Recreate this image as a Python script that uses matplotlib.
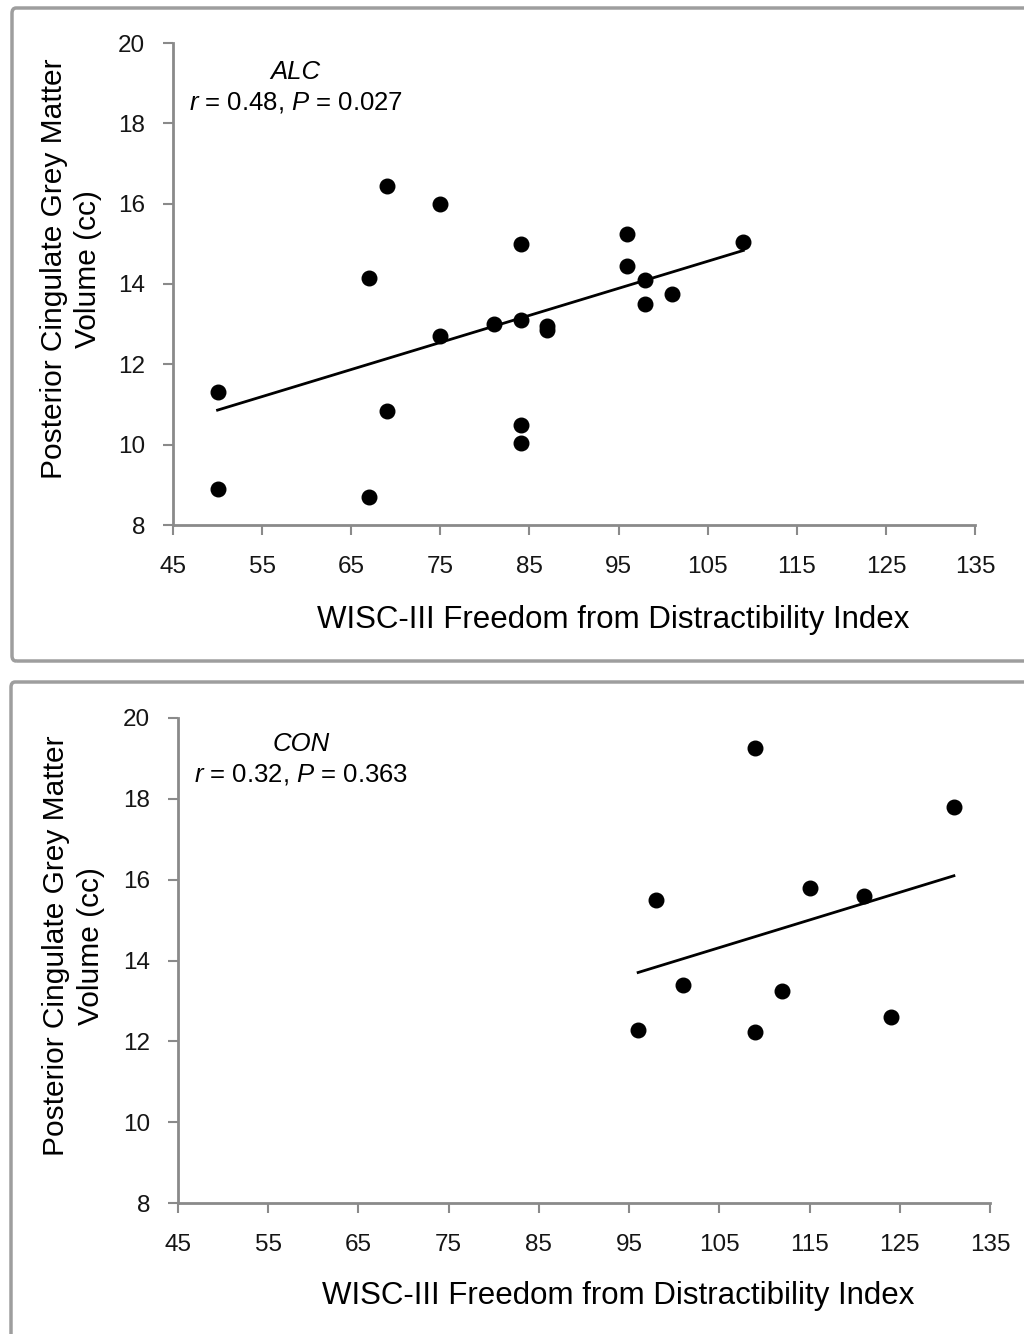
import numpy as np
import matplotlib
matplotlib.use("Agg")
import matplotlib.pyplot as plt
from matplotlib.patches import FancyBboxPatch

plt.rcParams['font.family'] = ['Liberation Sans', 'DejaVu Sans']
plt.rcParams['mathtext.fontset'] = 'custom'
plt.rcParams['mathtext.rm'] = 'Liberation Sans'
plt.rcParams['mathtext.it'] = 'Liberation Sans:italic'

# ALC group
alc_x = [50, 50, 67, 67, 69, 69, 75, 75, 81, 84, 84, 84, 84, 87, 87, 96, 96, 98, 98, 101, 109]
alc_y = [11.3, 8.9, 8.7, 14.15, 16.45, 10.85, 16.0, 12.7, 13.0, 15.0, 13.1, 10.5, 10.05,
         12.95, 12.85, 15.25, 14.45, 14.1, 13.5, 13.75, 15.05]

# CON group
con_x = [109, 131, 98, 115, 121, 101, 112, 96, 109, 124]
con_y = [19.25, 17.8, 15.5, 15.8, 15.6, 13.4, 13.25, 12.28, 12.22, 12.6]

x_ticks = [45, 55, 65, 75, 85, 95, 105, 115, 125, 135]
y_ticks = [8, 10, 12, 14, 16, 18, 20]

xlabel = "WISC-III Freedom from Distractibility Index"
ylabel = "Posterior Cingulate Grey Matter\nVolume (cc)"

fig = plt.figure(figsize=(10.24, 13.34), dpi=100)

# panel frames
for (x0, y0, w, h) in [(12 / 1024, 1 - 661 / 1334, 1.1, 653 / 1334),
                       (11 / 1024, -0.1, 1.1, 1 - 682 / 1334 + 0.1)]:
    fig.patches.append(FancyBboxPatch((x0, y0), w, h, boxstyle="round,pad=0,rounding_size=0.004",
                                      transform=fig.transFigure, facecolor='none',
                                      edgecolor='#9e9e9e', linewidth=2.5, zorder=5))

panels = [
    dict(x=alc_x, y=alc_y, name="ALC", stat=r"$\it{r}$ = 0.48, $\it{P}$ = 0.027",
         rect=[173 / 1024, 1 - 525 / 1334, 802 / 1024, 482 / 1334],
         txt=(0.153, 0.94), ylab=(-0.088, 0.531), xlab=(0.549, -0.197)),
    dict(x=con_x, y=con_y, name="CON", stat=r"$\it{r}$ = 0.32, $\it{P}$ = 0.363",
         rect=[178 / 1024, 1 - 1203 / 1334, 812 / 1024, 485 / 1334],
         txt=(0.152, 0.947), ylab=(-0.09, 0.53), xlab=(0.542, -0.192)),
]

for p in panels:
    ax = fig.add_axes(p['rect'])
    ax.patch.set_alpha(0)
    ax.scatter(p['x'], p['y'], s=110, color='black', zorder=3)
    slope, icpt = np.polyfit(p['x'], p['y'], 1)
    xs = np.array([min(p['x']), max(p['x'])])
    ax.plot(xs, slope * xs + icpt, color='black', linewidth=2)
    ax.set_xlim(45, 135)
    ax.set_ylim(8, 20)
    ax.set_xticks(x_ticks)
    ax.set_yticks(y_ticks)
    for s in ['top', 'right']:
        ax.spines[s].set_visible(False)
    for s in ['left', 'bottom']:
        ax.spines[s].set_color('#8a8a8a')
        ax.spines[s].set_linewidth(2)
        ax.spines[s].set_clip_on(False)
    ax.tick_params(axis='both', colors='#8a8a8a', length=7, width=1.5, labelcolor='#151515',
                   labelsize=17.5)
    ax.tick_params(axis='x', pad=15)
    ax.tick_params(axis='y', pad=13)
    ax.set_ylabel(ylabel, fontsize=21.5, linespacing=1.3)
    ax.yaxis.set_label_coords(*p['ylab'])
    ax.text(p['xlab'][0], p['xlab'][1], xlabel, transform=ax.transAxes, fontsize=22.5,
            ha='center', va='center')
    ax.text(p['txt'][0], p['txt'][1], p['name'], transform=ax.transAxes, fontsize=18.5,
            style='italic', ha='center', va='center')
    ax.text(p['txt'][0], p['txt'][1] - 0.064, p['stat'], transform=ax.transAxes, fontsize=18.5,
            ha='center', va='center')

fig.savefig("out.png", dpi=100)
